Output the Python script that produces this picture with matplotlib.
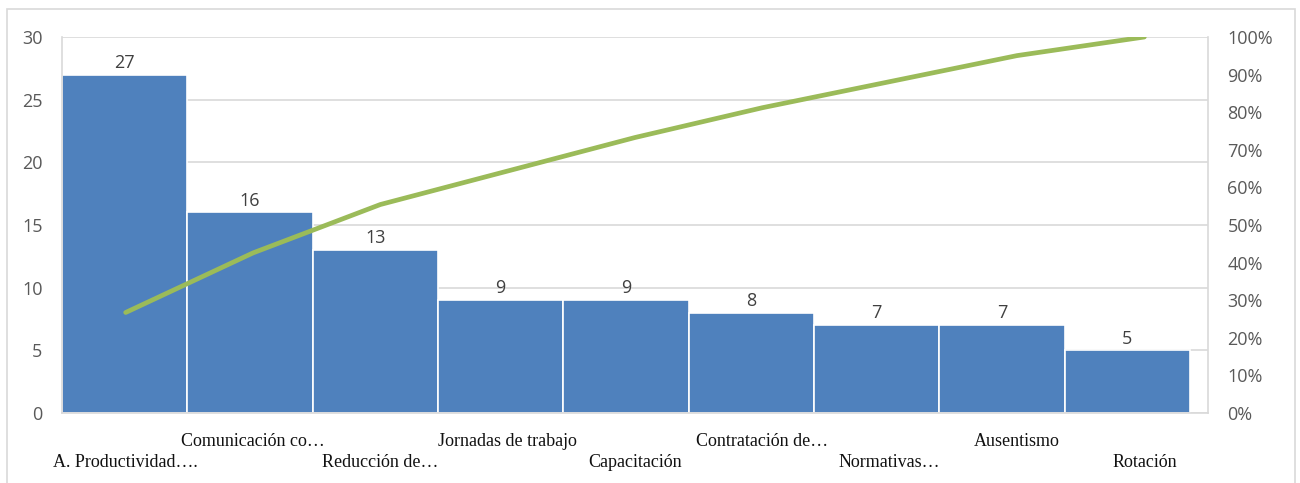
import matplotlib
matplotlib.use("Agg")
import matplotlib.pyplot as plt
import numpy as np
from matplotlib.patches import Rectangle

categories = ["A. Productividad….", "Comunicación co…", "Reducción de…", "Jornadas de trabajo",
              "Capacitación", "Contratación de…", "Normativas…", "Ausentismo", "Rotación"]
counts = [27, 16, 13, 9, 9, 8, 7, 7, 5]
left_ticks = [0, 5, 10, 15, 20, 25, 30]
right_ticks = [0, 0.1, 0.2, 0.3, 0.4, 0.5, 0.6, 0.7, 0.8, 0.9, 1.0]

cum = np.cumsum(counts) / np.sum(counts)

W, H = 1300, 483
fig = plt.figure(figsize=(W / 100, H / 100), dpi=100)
fig.patch.set_facecolor("white")

# outer border
fig.patches.append(Rectangle((7 / W, -0.02), (1295 - 7) / W, 1 - 9 / H + 0.02,
                             transform=fig.transFigure, fill=False,
                             edgecolor="#D9D9D9", linewidth=1.2, clip_on=False))

ax = fig.add_axes([62 / W, 1 - 413 / H, (1208 - 62) / W, (413 - 37) / H])
n = len(counts)
x = np.arange(n)
ax.set_xlim(-0.5, n - 0.5)
ax.set_ylim(0, 30)

# bars occupy slightly less than the full category span (Excel histogram style)
scale = (1190 - 62) / (1208 - 62)
bar_w = scale
bar_centers = (x + 0.5) * scale - 0.5
ax.bar(bar_centers, counts, width=bar_w, color="#4F81BD", edgecolor="white",
       linewidth=1.2, zorder=2)

for bc, v in zip(bar_centers, counts):
    ax.annotate(str(v), (bc, v), xytext=(0, 2), textcoords="offset points",
                ha="center", va="bottom", fontsize=13, color="#404040",
                family="Open Sans")

ax.set_yticks(left_ticks)
ax.grid(axis="y", color="#D9D9D9", linewidth=1.2, zorder=0)
ax.set_axisbelow(True)
for s in ["top"]:
    ax.spines[s].set_visible(False)
for s in ["left", "right", "bottom"]:
    ax.spines[s].set_color("#D9D9D9")
    ax.spines[s].set_linewidth(1.2)
ax.tick_params(axis="y", length=0, pad=14, labelsize=13, labelcolor="#595959")
for lab in ax.get_yticklabels():
    lab.set_family("Open Sans")

ax.set_xticks(x)
ax.set_xticklabels([])
ax.tick_params(axis="x", length=0)
for i, c in enumerate(categories):
    off = -20.5 if i % 2 == 1 else -35.5
    ax.annotate(c, (i, 0), xytext=(0, off), textcoords="offset points",
                ha="center", va="center", fontsize=13, color="#111111",
                family="Liberation Serif", annotation_clip=False)

ax2 = ax.twinx()
ax2.set_ylim(0, 1)
ax2.plot(x, cum, color="#9BBB59", linewidth=3.4, solid_capstyle="round", zorder=3)
ax2.set_yticks(right_ticks)
ax2.set_yticklabels([f"{int(round(t * 100))}%" for t in right_ticks])
ax2.tick_params(axis="y", length=0, pad=14, labelsize=13, labelcolor="#595959")
for lab in ax2.get_yticklabels():
    lab.set_family("Open Sans")
for s in ax2.spines.values():
    s.set_visible(False)

fig.savefig("out.png", dpi=100, facecolor="white")
